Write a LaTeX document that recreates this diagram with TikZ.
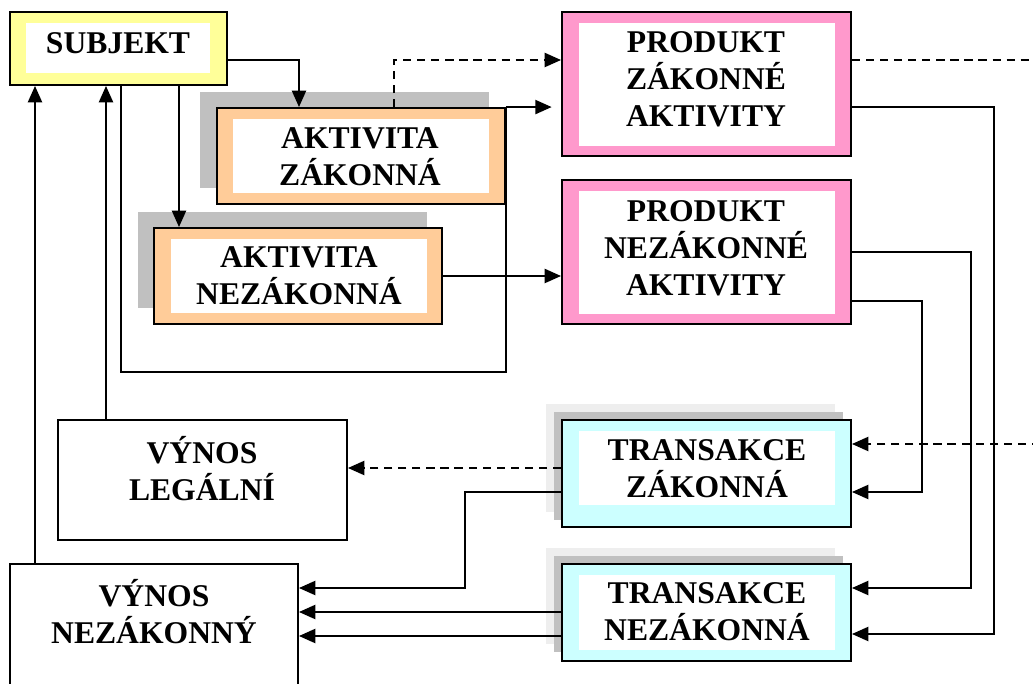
\documentclass[tikz,border=0pt]{standalone}
\usepackage{fontspec}
\setmainfont{Liberation Serif}
\usetikzlibrary{arrows.meta, fit}

\definecolor{mauVang}{HTML}{FFFF99}
\definecolor{mauCam}{HTML}{FFCC99}
\definecolor{mauHong}{HTML}{FF99CC}
\definecolor{mauLam}{HTML}{CCFFFF}
\definecolor{bong}{HTML}{C0C0C0}
\definecolor{bongnhat}{HTML}{EEEEEE}

\begin{document}
\begin{tikzpicture}[x=0.03cm, y=-0.03cm, >={Triangle[length=14pt, width=12pt]}, line width=1.8pt,
    khung/.style={draw=black, line width=1.6pt, inner sep=0pt},
    trong/.style={fill=white, inner sep=0pt},
    chu/.style={font=\fontsize{27}{31.6}\selectfont\bfseries, align=center, inner sep=0pt},
    netdut/.style={dash pattern=on 7pt off 5pt}]

    % Giới hạn vùng vẽ
    \useasboundingbox (0,0) rectangle (1033,684);
    \clip (0,0) rectangle (1033,684);

    % Bóng đổ (màu xám)
    \fill[bong] (200,92) rectangle (489,188);
    \fill[bong] (138,212) rectangle (427,308);
    \fill[bongnhat] (546,404) rectangle (835,512);
    \fill[bong] (554,412) rectangle (843,520);
    \fill[bongnhat] (546,548) rectangle (835,644);
    \fill[bong] (554,556) rectangle (843,652);

    % Khung SUBJEKT
    \node[khung, fill=mauVang, fit={(10,12) (227,85)}] (subjekt) {};
    \node[trong, fit={(26,23) (210,73)}] {};
    \node[chu] at (118,43) {SUBJEKT};

    % Các khung hoạt động
    \node[khung, fill=mauCam, fit={(217,108) (505,204)}] (aktz) {};
    \node[trong, fit={(233,119) (489,193)}] {};
    \node[chu] at (360,157) {AKTIVITA\\ZÁKONNÁ};

    \node[khung, fill=mauCam, fit={(154,228) (442,324)}] (aktn) {};
    \node[trong, fit={(171,239) (427,313)}] {};
    \node[chu] at (299,276) {AKTIVITA\\NEZÁKONNÁ};

    % Các khung sản phẩm
    \node[khung, fill=mauHong, fit={(562,12) (851,156)}] (prodz) {};
    \node[trong, fit={(579,23) (835,146)}] {};
    \node[chu] at (706,79) {PRODUKT\\ZÁKONNÉ\\AKTIVITY};

    \node[khung, fill=mauHong, fit={(562,180) (851,324)}] (prodn) {};
    \node[trong, fit={(579,191) (835,314)}] {};
    \node[chu] at (706,248) {PRODUKT\\NEZÁKONNÉ\\AKTIVITY};

    % Các khung giao dịch
    \node[khung, fill=mauLam, fit={(562,420) (851,527)}] (transz) {};
    \node[trong, fit={(579,431) (835,505)}] {};
    \node[chu] at (707,469) {TRANSAKCE\\ZÁKONNÁ};

    \node[khung, fill=mauLam, fit={(562,564) (851,661)}] (transn) {};
    \node[trong, fit={(579,575) (835,650)}] {};
    \node[chu] at (707,612) {TRANSAKCE\\NEZÁKONNÁ};

    % Các khung thu nhập
    \node[khung, fill=white, fit={(58,420) (347,540)}] (vynosl) {};
    \node[chu] at (202,469) {VÝNOS\\LEGÁLNÍ};

    \node[khung, fill=white, fit={(10,564) (298,720)}] (vynosn) {};
    \node[chu] at (154,612) {VÝNOS\\NEZÁKONNÝ};

    % Mũi tên từ SUBJEKT
    \draw[->] (subjekt.east |- 0,60) -| (299,0 |- aktz.north);
    \draw[->] (subjekt.south -| 179,0) -- (aktn.north -| 179,0);
    \draw (subjekt.south -| 121,0) |- (aktz.east |- 0,372) -- (aktz.north east);

    % Hoạt động -> sản phẩm
    \draw[->, shorten >=8pt] (aktz.north east) -- (prodz.west |- aktz.north east);
    \draw[->, netdut] (aktz.north -| 394,0) |- (prodz.west |- 0,60);
    \draw[->] (aktn.east) -- (prodn.west |- aktn.east);

    % Đường nét đứt ra mép phải
    \coordinate (mepA) at (1040,60);
    \coordinate (mepB) at (1040,444);
    \draw[netdut] (prodz.east |- mepA) -- (mepA);
    \draw[->, netdut] (mepB) -- (transz.east |- mepB);

    % Sản phẩm -> giao dịch
    \draw[->] (prodz.east |- 0,107) -| (994,634) -- (transn.east |- 0,634);
    \draw[->] (prodn.east |- 0,252) -| (971,588) -- (transn.east |- 0,588);
    \draw[->] (prodn.east |- 0,301) -| (922,492) -- (transz.east |- 0,492);

    % Giao dịch -> thu nhập
    \draw[->, netdut] (transz.west |- 0,468) -- (vynosl.east |- 0,468);
    \draw[->] (transz.west |- 0,492) -| (465,588) -- (vynosn.east |- 0,588);
    \draw[->] (transn.west |- 0,612) -- (vynosn.east |- 0,612);
    \draw[->] (transn.west |- 0,636) -- (vynosn.east |- 0,636);

    % Thu nhập -> SUBJEKT
    \draw[->] (vynosl.north -| 106,0) -- (subjekt.south -| 106,0);
    \draw[->] (vynosn.north -| 35,0) -- (subjekt.south -| 35,0);

\end{tikzpicture}
\end{document}
